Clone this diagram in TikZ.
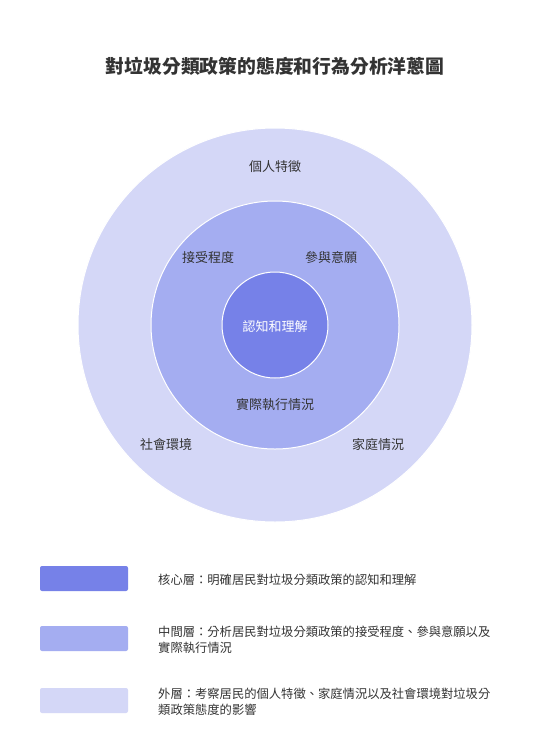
\documentclass[tikz,border=0pt]{standalone}
\usepackage{fontspec}
\setmainfont{Noto Sans CJK TC}
\usepackage{xcolor}
\usepackage{tikz}

\definecolor{coreblue}{HTML}{7681E8}
\definecolor{midblue}{HTML}{A4ADF1}
\definecolor{outerblue}{HTML}{D4D7F7}
\definecolor{textgray}{HTML}{333333}

\tikzset{
    ring/.style={circle, fill=#1, draw=white, line width=1pt, inner sep=0pt},
    ringlabel/.style={font=\fontsize{13}{15}\selectfont, text=textgray},
    swatch/.style={fill=#1, rounded corners=2pt, minimum width=88pt, minimum height=25pt, inner sep=0pt},
    legendtext/.style={anchor=west, align=left, inner sep=0pt, font=\fontsize{12.3}{16.5}\selectfont, text=textgray}
}

\begin{document}
\begin{tikzpicture}[x=1pt, y=-1pt]
    % background and page size
    \fill[white] (0, 0) rectangle (555, 753);
    \useasboundingbox (0, 0) rectangle (555, 753);

    % draw title
    \node[font=\fontsize{18.8}{21}\selectfont\bfseries, text=textgray] (title) at (275, 66) {對垃圾分類政策的態度和行為分析洋蔥圖};

    % draw onion rings
    \node[ring=outerblue, minimum size=394pt] (outer) at (275, 325) {};
    \node[ring=midblue, minimum size=248pt] (mid) at (275, 325) {};
    \node[ring=coreblue, minimum size=106pt] (core) at (275, 325) {};

    % draw ring labels
    \node[ringlabel] (personal) at (275, 167) {個人特徵};
    \node[ringlabel] (society) at (166, 445) {社會環境};
    \node[ringlabel] (family) at (378, 445) {家庭情況};
    \node[ringlabel] (accept) at (208, 258) {接受程度};
    \node[ringlabel] (willing) at (331, 258) {參與意願};
    \node[ringlabel] (practice) at (275, 405) {實際執行情況};
    \node[ringlabel, text=white] (cognition) at (275, 327) {認知和理解};

    % draw legend swatches
    \node[swatch=coreblue] (keycore) at (84, 578.5) {};
    \node[swatch=midblue] (keymid) at (84, 638.5) {};
    \node[swatch=outerblue] (keyouter) at (84, 700.5) {};

    % draw legend texts
    \node[legendtext] (textcore) at (158, 580) {核心層：明確居民對垃圾分類政策的認知和理解};
    \node[legendtext] (textmid) at (158, 640) {中間層：分析居民對垃圾分類政策的接受程度、參與意願以及\\實際執行情況};
    \node[legendtext] (textouter) at (158, 702) {外層：考察居民的個人特徵、家庭情況以及社會環境對垃圾分\\類政策態度的影響};

\end{tikzpicture}
\end{document}
